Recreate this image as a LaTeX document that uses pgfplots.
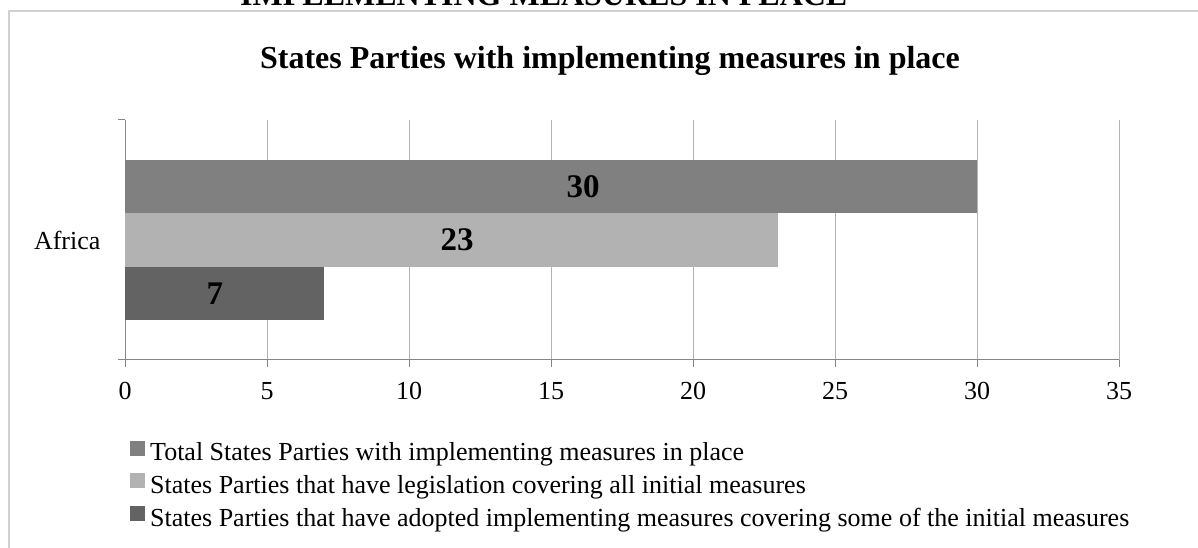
\documentclass[border=0pt]{standalone}
\usepackage{fontspec}
\setmainfont{Liberation Serif}
\usepackage{pgfplots}
\pgfplotsset{compat=1.18}
\definecolor{cA}{HTML}{808080}
\definecolor{cB}{HTML}{B2B2B2}
\definecolor{cC}{HTML}{636363}
\definecolor{axisgray}{HTML}{868686}
\definecolor{gridgray}{HTML}{B4B4B4}
\definecolor{framegray}{HTML}{D0D0D0}
\begin{document}
\begin{tikzpicture}[x=1pt,y=1pt]
\useasboundingbox (0,0) rectangle (1198,548);
\clip (0,0) rectangle (1198,548);
\draw[framegray, line width=2pt] (8.5,-5) -- (8.5,537) -- (1210,537);
\node[anchor=base west, font=\bfseries\fontsize{32}{38}\selectfont, inner sep=0pt] at (240,542.5) {IMPLEMENTING MEASURES IN PLACE};
\node[anchor=base, font=\bfseries\fontsize{32}{38}\selectfont, inner sep=0pt] at (610,479) {States Parties with implementing measures in place};
\begin{axis}[
  at={(125pt,188pt)}, anchor=south west,
  scale only axis, width=994pt, height=240pt,
  xbar, bar width=53.3pt,
  xmin=0, xmax=35, ymin=-0.5, ymax=0.5,
  xtick={0,5,...,35},
  xmajorgrids, grid style={gridgray, line width=1pt},
  axis x line*=bottom, axis y line*=left,
  axis line style={-, axisgray, line width=1pt},
  tick align=outside, major tick length=7pt,
  tick style={axisgray, line width=1pt},
  ytick={-0.5,0.5}, yticklabels={},
  extra y ticks={0}, extra y tick labels={Africa},
  extra y tick style={major tick length=0pt, yticklabel style={xshift=-21pt}},
  /pgf/number format/assume math mode=true,
  ticklabel style={font=\fontsize{26}{31}\selectfont},
  xticklabel style={yshift=-12pt},
  legend style={at={(axis description cs:0.005,-0.335)}, anchor=north west,
    draw=none, fill=none, inner sep=0pt, row sep=9pt,
    font=\fontsize{26}{31}\selectfont, nodes={inner sep=2pt}},
  legend cell align=left,
  legend image code/.code={\fill[#1] (0pt,-3pt) rectangle (15pt,12pt);},
  nodes near coords,
  every node near coord/.append style={font=\bfseries\fontsize{33}{40}\selectfont, anchor=center, black},
]
\addplot[fill=cA, draw=none, bar shift=53.3pt, every node near coord/.append style={xshift=-394pt}] coordinates {(30,0)};
\addplot[fill=cB, draw=none, bar shift=0pt, every node near coord/.append style={xshift=-321pt}] coordinates {(23,0)};
\addplot[fill=cC, draw=none, bar shift=-53.3pt, every node near coord/.append style={xshift=-109pt}] coordinates {(7,0)};
\legend{\hspace{3pt}Total States Parties with implementing measures in place,
\hspace{3pt}States Parties that have legislation covering all initial measures,
\hspace{3pt}States Parties that have adopted implementing measures covering some of the initial measures}
\end{axis}
\end{tikzpicture}
\end{document}
